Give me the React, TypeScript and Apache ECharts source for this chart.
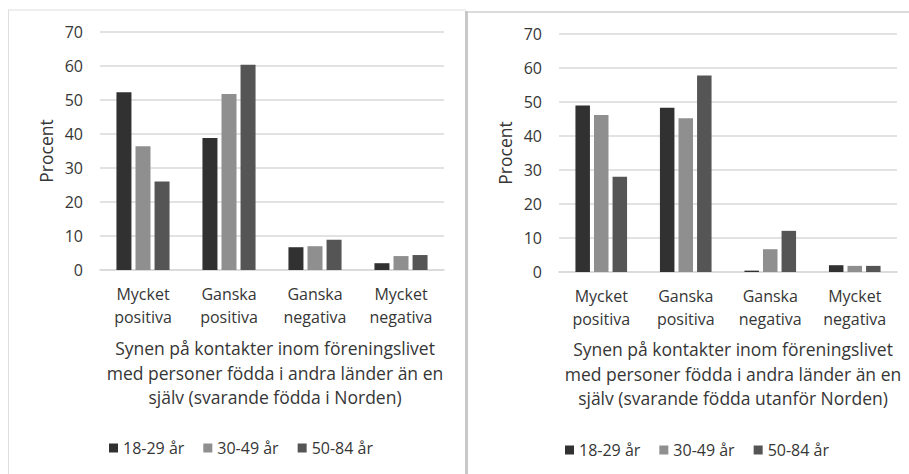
import React, { useEffect, useRef } from "react";
import * as echarts from "echarts";

const categories = ["Mycket\npositiva", "Ganska\npositiva", "Ganska\nnegativa", "Mycket\nnegativa"];
const seriesNames = ["18-29 år", "30-49 år", "50-84 år"];
const colors = ["#313131", "#8f8f8f", "#555555"];

// Left chart: respondents born in the Nordic countries
const leftYoung = [52.3, 38.8, 6.7, 2.0];
const leftMiddle = [36.4, 51.8, 7.0, 4.1];
const leftOld = [26.0, 60.4, 8.9, 4.4];

// Right chart: respondents born outside the Nordic countries
const rightYoung = [49.0, 48.3, 0.4, 2.0];
const rightMiddle = [46.2, 45.2, 6.7, 1.8];
const rightOld = [28.0, 57.8, 12.1, 1.8];

const yTicks = [0, 10, 20, 30, 40, 50, 60, 70];
const leftTitle = "Synen på kontakter inom föreningslivet\nmed personer födda i andra länder än en\nsjälv (svarande födda i Norden)";
const rightTitle = "Synen på kontakter inom föreningslivet\nmed personer födda i andra länder än en\nsjälv (svarande födda utanför Norden)";
const yName = "Procent";

const FONT = "Open Sans";
const TXT = "#363636";

export default function App() {
  const ref = useRef<HTMLDivElement>(null);
  useEffect(() => {
    if (!ref.current) return;
    const chart = echarts.init(ref.current, null, { renderer: "svg" });
    const grids = [
      { left: 100, right: 465, top: 32, bottom: 204 },
      { left: 559, right: 12, top: 34, bottom: 202 },
    ];
    const mkX = (gi: number) => ({
      type: "category",
      gridIndex: gi,
      data: categories,
      axisLine: { show: true, lineStyle: { color: "#d9d9d9", width: 1.5 } },
      axisTick: { show: false },
      axisLabel: { color: TXT, fontFamily: FONT, fontSize: 16, lineHeight: 23, margin: 12, interval: 0 },
    });
    const mkY = (gi: number) => ({
      type: "value",
      gridIndex: gi,
      min: yTicks[0],
      max: yTicks[yTicks.length - 1],
      interval: 10,
      name: yName,
      nameLocation: "middle",
      nameRotate: 90,
      nameGap: 45,
      nameTextStyle: { color: TXT, fontFamily: FONT, fontSize: 17.5 },
      axisLine: { show: false },
      axisTick: { show: false },
      splitLine: { show: true, lineStyle: { color: "#d9d9d9", width: 1.5 } },
      axisLabel: { color: TXT, fontFamily: FONT, fontSize: 16, margin: 17 },
    });
    const leftData = [leftYoung, leftMiddle, leftOld];
    const rightData = [rightYoung, rightMiddle, rightOld];
    const series: any[] = [];
    leftData.forEach((d, i) =>
      series.push({
        type: "bar",
        name: seriesNames[i],
        xAxisIndex: 0,
        yAxisIndex: 0,
        data: d,
        barWidth: 15,
        barGap: "27%",
        itemStyle: { color: colors[i] },
      })
    );
    rightData.forEach((d, i) =>
      series.push({
        type: "bar",
        name: seriesNames[i],
        xAxisIndex: 1,
        yAxisIndex: 1,
        data: d,
        barWidth: 14.5,
        barGap: "28%",
        itemStyle: { color: colors[i] },
      })
    );
    const legendBase = {
      orient: "horizontal",
      icon: "rect",
      itemWidth: 9,
      itemHeight: 9,
      itemGap: 19,
      padding: 0,
      data: seriesNames,
      textStyle: { color: TXT, fontFamily: FONT, fontSize: 16 },
      selectedMode: false,
    };
    const titleStyle = { color: TXT, fontFamily: FONT, fontSize: 17.5, fontWeight: "normal", lineHeight: 24.5 };
    chart.setOption({
      animation: false,
      backgroundColor: "#ffffff",
      grid: grids,
      xAxis: [mkX(0), mkX(1)],
      yAxis: [mkY(0), mkY(1)],
      series,
      legend: [
        { ...legendBase, left: 109, top: 440 },
        { ...legendBase, left: 565, top: 442 },
      ],
      title: [
        { text: leftTitle, left: 275, top: 336, padding: 0, textAlign: "center", textStyle: titleStyle },
        { text: rightTitle, left: 733, top: 337, padding: 0, textAlign: "center", textStyle: titleStyle },
      ],
      graphic: [
        { type: "line", shape: { x1: 8.5, y1: 10, x2: 8.5, y2: 474 }, style: { stroke: "#dedede", lineWidth: 1 } },
        { type: "line", shape: { x1: 8, y1: 10, x2: 466, y2: 10 }, style: { stroke: "#dedede", lineWidth: 1 } },
        { type: "line", shape: { x1: 466, y1: 12, x2: 909, y2: 12 }, style: { stroke: "#cfcfcf", lineWidth: 1.5 } },
        { type: "line", shape: { x1: 466.5, y1: 11, x2: 466.5, y2: 474 }, style: { stroke: "#c8c8c8", lineWidth: 3 } },
      ],
    });
    return () => chart.dispose();
  }, []);
  return (
    <div
      ref={ref}
      style={{ position: "fixed", left: 0, top: 0, width: 909, height: 474, background: "#fff" }}
    />
  );
}
